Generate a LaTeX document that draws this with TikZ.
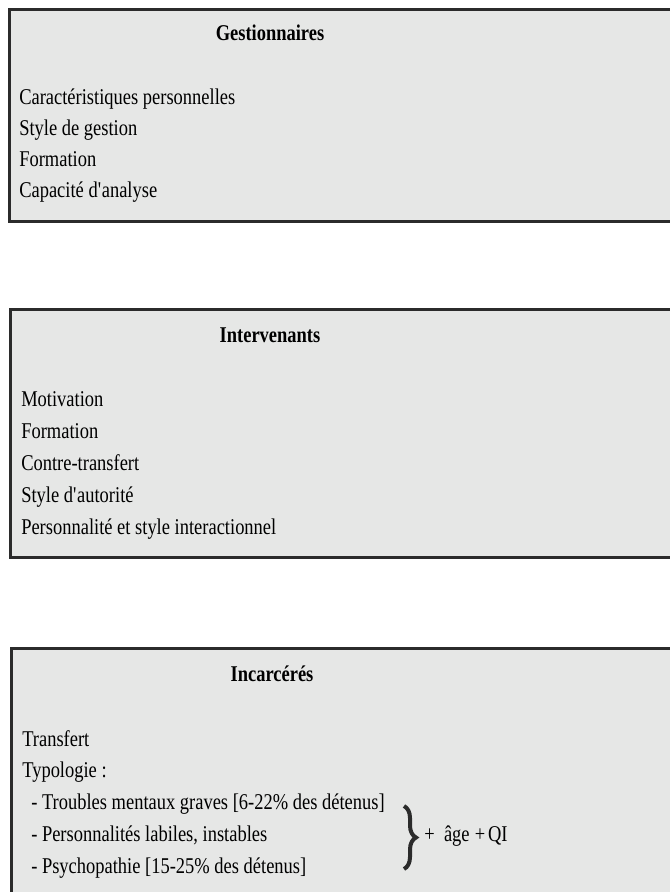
\documentclass[tikz,border=0pt]{standalone}
\usepackage{fontspec}
\setmainfont{Liberation Serif}[FakeStretch=0.82]
\usetikzlibrary{decorations.pathreplacing}
\definecolor{panelgray}{HTML}{E6E7E6}
\definecolor{edgegray}{HTML}{2B2B2B}

\begin{document}
\begin{tikzpicture}[x=0.75pt,y=-0.75pt,
  panel/.style={draw=edgegray,fill=panelgray,line width=2.2pt,rectangle,outer sep=0pt,anchor=north west,minimum width=518pt},
  head/.style={font=\fontsize{16.9}{20}\selectfont\bfseries,inner sep=0pt,anchor=base},
  item/.style={font=\fontsize{16.9}{20}\selectfont,inner sep=0pt,anchor=base west},
  curly/.style={decorate,decoration={brace,amplitude=9pt},line width=3pt,edgegray}]
\useasboundingbox (0,0) rectangle (670,892);
\clip (0,0) rectangle (670,892);

% Gestionnaires
\node[panel,minimum height=159pt] (gest) at (9.5,9.5) {};
\node[head] (gesthead) at (270,40.5) {Gestionnaires};
\node[item] (g1) at (19,104) {Caractéristiques personnelles};
\node[item] (g2) at (19,135) {Style de gestion};
\node[item] (g3) at (19,166) {Formation};
\node[item] (g4) at (19,197) {Capacité d\textquotesingle analyse};

% Intervenants
\node[panel,minimum height=186pt] (inter) at (10.5,309.5) {};
\node[head] (interhead) at (270,342.5) {Intervenants};
\node[item] (i1) at (21,406.5) {Motivation};
\node[item] (i2) at (21,438.5) {Formation};
\node[item] (i3) at (21,470.5) {Contre-transfert};
\node[item] (i4) at (21,502.5) {Style d\textquotesingle autorité};
\node[item] (i5) at (21,534.5) {Personnalité et style interactionnel};

% Incarcérés
\node[panel,minimum height=225pt] (incar) at (11.5,648.5) {};
\node[head] (incarhead) at (272,681.5) {Incarcérés};
\node[item] (c1) at (22,746) {Transfert};
\node[item] (c2) at (22,777.5) {Typologie :};
\node[item] (c3) at (31,809.5) {- Troubles mentaux graves [6-22\% des détenus]};
\node[item] (c4) at (31,841.5) {- Personnalités labiles, instables};
\node[item] (c5) at (31,873) {- Psychopathie [15-25\% des détenus]};

% brace and extra factors
\coordinate (bracetop) at (404,806);
\coordinate (bracebot) at (404,869);
\draw[curly] (bracetop) -- (bracebot);
\node[item] (extra) at (424,841.5) {+\hspace{7pt}âge\hspace{4pt}+\hspace{2pt}QI};
\end{tikzpicture}
\end{document}
